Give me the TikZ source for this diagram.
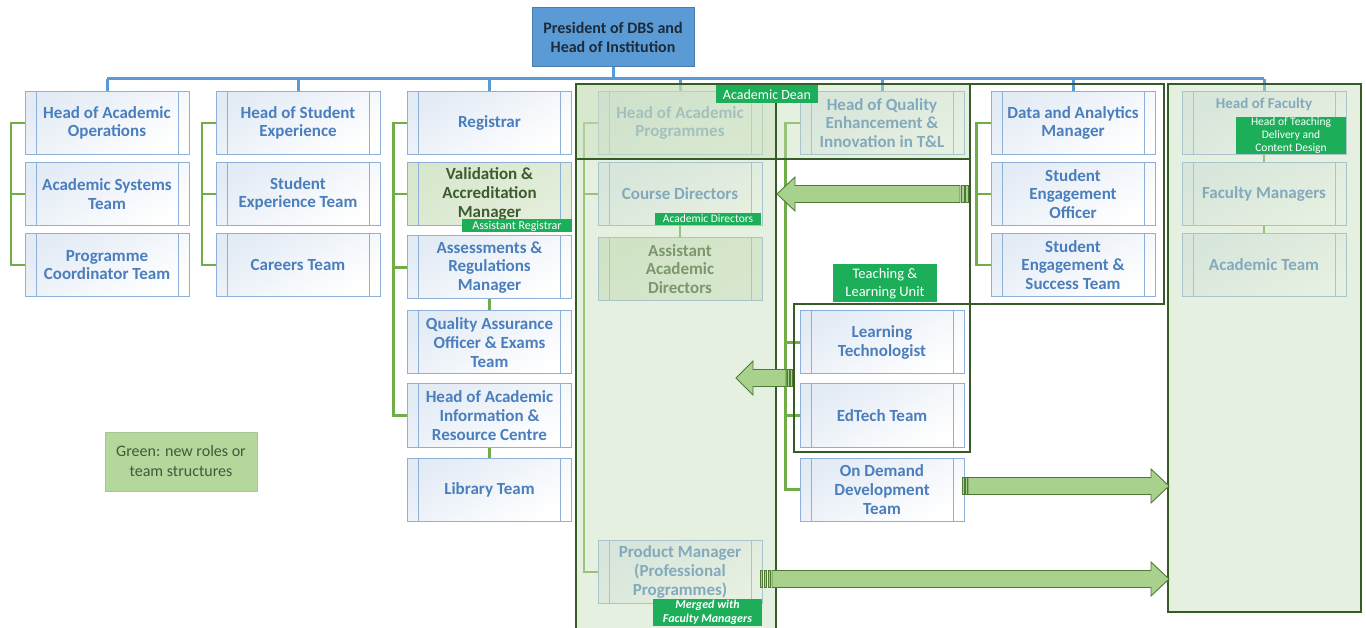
\documentclass[tikz,border=0pt]{standalone}
\usepackage{fontspec}
\setmainfont{Carlito}
\definecolor{boxblue}{HTML}{8EB0D8}
\definecolor{boxtop}{HTML}{E3EBF5}
\definecolor{txtblue}{HTML}{4A7EBC}
\definecolor{busblue}{HTML}{5B9BD5}
\definecolor{gconncol}{HTML}{70AD47}
\definecolor{dkgreen}{HTML}{375A29}
\definecolor{lblgreen}{HTML}{1DAE5A}
\definecolor{arrowfill}{HTML}{A9D18E}
\definecolor{arrowline}{HTML}{4E7A35}
\definecolor{newfill}{HTML}{D8E7CD}
\definecolor{newtext}{HTML}{3D5C2E}
\definecolor{tint}{HTML}{C9DFBC}
\definecolor{legfill}{HTML}{B4D79C}
\definecolor{legtext}{HTML}{3F5A3A}
\definecolor{presfill}{HTML}{5B9BD5}
\definecolor{prestext}{HTML}{1C2A3A}
\tikzset{
  orgbox/.style={draw=boxblue, line width=1pt, minimum width=164pt, minimum height=63pt,
    inner sep=0pt, align=center, text=txtblue, font=\fontsize{17}{18.7}\selectfont\bfseries,
    top color=boxtop, bottom color=white, shading angle=30,
    path picture={\draw[boxblue,line width=1pt]
      ([xshift=11pt]path picture bounding box.north west) -- ([xshift=11pt]path picture bounding box.south west)
      ([xshift=-11pt]path picture bounding box.north east) -- ([xshift=-11pt]path picture bounding box.south east);}},
  newbox/.style={orgbox, top color=newfill, bottom color=newfill!70!white, shading angle=30, text=newtext},
  busline/.style={busblue, line width=3pt},
  gconn/.style={gconncol, line width=2.8pt},
  region/.style={dkgreen, line width=2.8pt},
  tintfill/.style={fill=tint, fill opacity=0.45},
  lbl/.style={fill=lblgreen, text=white, inner sep=0pt, align=center},
  blockarrow/.style={fill=arrowfill, draw=arrowline, line width=0.9pt, line join=miter},
}
\begin{document}
\begin{tikzpicture}[x=1pt,y=-1pt]
\useasboundingbox (0,0) rectangle (1366,628);
\fill[white] (0,0) rectangle (1366,628);

% president
\node[fill=presfill, draw=busblue!80!black, line width=0.6pt, minimum width=162pt, minimum height=59pt,
  align=center, text=prestext, font=\fontsize{16}{19}\selectfont\bfseries] (P) at (613,37)
  {President of DBS and\\Head of Institution};

% column 1
\node[orgbox] (c1r1) at (107,123) {Head of Academic\\Operations};
\node[orgbox] (c1r2) at (107,194) {Academic Systems\\Team};
\node[orgbox] (c1r3) at (107,265) {Programme\\Coordinator Team};
% column 2
\node[orgbox] (c2r1) at (298,123) {Head of Student\\Experience};
\node[orgbox] (c2r2) at (298,194) {Student\\Experience Team};
\node[orgbox] (c2r3) at (298,265) {Careers Team};
% column 3
\node[orgbox] (c3r1) at (489.5,123) {Registrar};
\node[newbox] (c3r2) at (489.5,194) {Validation \&\\Accreditation\\Manager};
\node[orgbox] (c3r3) at (489.5,267.5) {Assessments \&\\Regulations\\Manager};
\node[orgbox] (c3r4) at (489.5,342.5) {Quality Assurance\\Officer \& Exams\\Team};
\node[orgbox] (c3r5) at (489.5,415.5) {Head of Academic\\Information \&\\Resource Centre};
\node[orgbox] (c3r6) at (489.5,489.5) {Library Team};
% column 4
\node[orgbox] (c4r1) at (680,123) {Head of Academic\\Programmes};
\node[orgbox] (c4r2) at (680,194) {Course Directors};
\node[newbox] (c4r3) at (680,269) {Assistant\\Academic\\Directors};
\node[orgbox] (c4pm) at (680,572) {Product Manager\\(Professional\\Programmes)};
% column 5
\node[orgbox] (c5r1) at (882,123) {Head of Quality\\Enhancement \&\\Innovation in T\&L};
\node[orgbox] (c5lt) at (882,342.5) {Learning\\Technologist};
\node[orgbox] (c5ed) at (882,415.5) {EdTech Team};
\node[orgbox] (c5od) at (882,489.5) {On Demand\\Development\\Team};
% column 6
\node[orgbox] (c6r1) at (1073,123) {Data and Analytics\\Manager};
\node[orgbox] (c6r2) at (1073,194) {Student\\Engagement\\Officer};
\node[orgbox] (c6r3) at (1073,265) {Student\\Engagement \&\\Success Team};
% column 7
\node[orgbox, text depth=40pt, font=\fontsize{15}{17}\selectfont\bfseries] (c7r1) at (1264,123) {Head of Faculty};
\node[orgbox] (c7r2) at (1264,194) {Faculty Managers};
\node[orgbox] (c7r3) at (1264,265) {Academic Team};

% blue bus
\coordinate (bus) at (613,79);
\draw[busline] (P.south) -- (bus);
\draw[busline] (c1r1.north |- bus) -- (c7r1.north |- bus);
\foreach \n in {c1r1,c2r1,c3r1,c4r1,c5r1,c6r1,c7r1}
  \draw[busline] (\n.north) -- (\n.north |- bus);

% green connectors
\draw[gconn] (c1r1.west) -- ++(-13.5,0) |- (c1r3.west);
\draw[gconn] (c1r2.west) -- ++(-13.5,0);
\draw[gconn] (c2r1.west) -- ++(-13.5,0) |- (c2r3.west);
\draw[gconn] (c2r2.west) -- ++(-13.5,0);
\draw[gconn] (c3r1.west) -- ++(-13.5,0) |- (c3r5.west);
\draw[gconn] (c3r2.west) -- ++(-13.5,0);
\draw[gconn] (c3r3.west) -- ++(-13.5,0);
\draw[gconn] (c3r3.south) -- (c3r4.north);
\draw[gconn] (c3r5.south) -- (c3r6.north);
\draw[gconn] (c4r1.west) -- ++(-13.5,0) |- (c4pm.west);
\draw[gconn] (c4r2.west) -- ++(-13.5,0);
\draw[gconn] (c4r2.south) -- (c4r3.north);
\draw[gconn] (c5r1.west) -- ++(-14,0) |- (c5od.west);
\draw[gconn] (c5lt.west) -- ++(-14,0);
\draw[gconn] (c5ed.west) -- ++(-14,0);
\draw[gconn] (c6r1.west) -- ++(-14,0) |- (c6r3.west);
\draw[gconn] (c6r2.west) -- ++(-14,0);
\draw[gconn] (c7r1.south) -- (c7r2.north);
\draw[gconn] (c7r2.south) -- (c7r3.north);

% tinted regions
\fill[tintfill] (576,84) rectangle (776,632);
\fill[tintfill] (576,84) rectangle (970,159);
\fill[tintfill] (1168,84) rectangle (1361,612);

% region outlines
\draw[region] (576,632) -- (576,84) -- (776,84) -- (776,632);
\draw[region] (576,84) rectangle (970,159);
\draw[region] (970,84) rectangle (1164,304);
\draw[region] (794,304) rectangle (970,452);
\draw[region] (1168,84) rectangle (1361,612);

% block arrows
\draw[blockarrow] (777,194) -- (795,177) -- (795,185.5) -- (960,185.5) -- (960,202.5) -- (795,202.5) -- (795,211) -- cycle;
\draw[blockarrow] (961,185.5) rectangle (964,202.5);
\draw[blockarrow] (965.5,185.5) rectangle (968.5,202.5);

\draw[blockarrow] (736,378) -- (753,361) -- (753,369.5) -- (786,369.5) -- (786,386.5) -- (753,386.5) -- (753,395) -- cycle;
\draw[blockarrow] (787,369.5) rectangle (789.3,386.5);
\draw[blockarrow] (790.3,369.5) rectangle (792.6,386.5);

\draw[blockarrow] (1169,486) -- (1151,469) -- (1151,477.5) -- (968,477.5) -- (968,494.5) -- (1151,494.5) -- (1151,503) -- cycle;
\draw[blockarrow] (962,477.5) rectangle (964.3,494.5);
\draw[blockarrow] (965.3,477.5) rectangle (967.5,494.5);

\draw[blockarrow] (1169,579) -- (1151,562) -- (1151,570.5) -- (772,570.5) -- (772,587.5) -- (1151,587.5) -- (1151,596) -- cycle;
\draw[blockarrow] (760,570.5) rectangle (762.5,587.5);
\draw[blockarrow] (764,570.5) rectangle (766.5,587.5);
\draw[blockarrow] (768,570.5) rectangle (770.5,587.5);

% labels
\node[lbl, minimum width=110pt, minimum height=13pt, font=\fontsize{12}{13}\selectfont] (lAR) at (517,226) {Assistant Registrar};
\node[lbl, minimum width=106pt, minimum height=12pt, font=\fontsize{11.5}{12}\selectfont] (lAD) at (708,219) {Academic Directors};
\node[lbl, minimum width=102pt, minimum height=18pt, font=\fontsize{14}{15}\selectfont] (lDean) at (767,94.5) {Academic Dean};
\node[lbl, minimum width=104pt, minimum height=38pt, font=\fontsize{14.5}{18}\selectfont] (lTL) at (885,283.5) {Teaching \&\\Learning Unit};
\node[lbl, minimum width=110pt, minimum height=37pt, font=\fontsize{11.5}{13}\selectfont] (lHT) at (1291,135.5) {Head of Teaching\\Delivery and\\Content Design};
\node[lbl, minimum width=109pt, minimum height=27pt, font=\fontsize{12}{14}\selectfont\bfseries\itshape] (lMF) at (707.5,612.5) {Merged with\\Faculty Managers};

% legend
\node[fill=legfill, draw=legfill!80!gray, line width=0.5pt, minimum width=152pt, minimum height=59pt, inner sep=0pt,
  align=center, text=legtext, font=\fontsize{16}{20}\selectfont] (leg) at (181,461.5) {Green: new roles or\\team structures};
\end{tikzpicture}
\end{document}
